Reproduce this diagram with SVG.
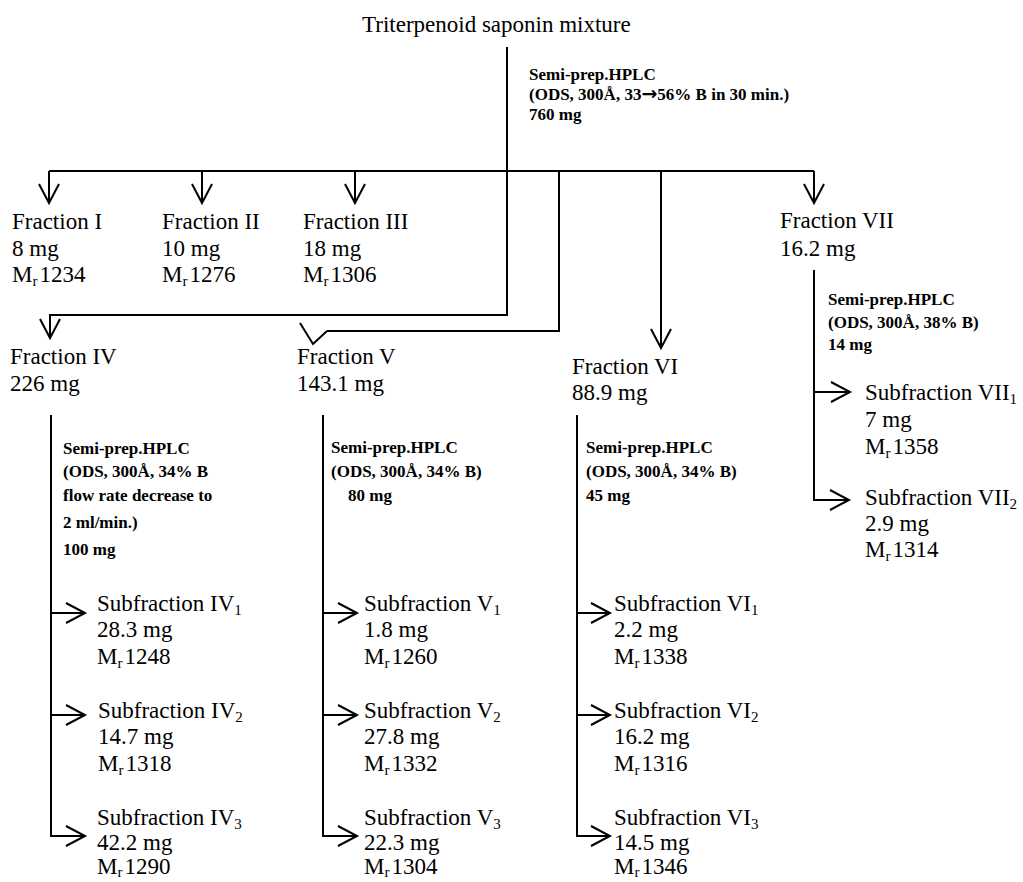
<svg xmlns="http://www.w3.org/2000/svg" width="1023" height="882" viewBox="0 0 1023 882">
<style>
.b{font-family:"Liberation Serif","Times New Roman",serif;font-size:23px;fill:#000}
.s{font-family:"Liberation Serif","Times New Roman",serif;font-size:17px;font-weight:bold;fill:#000}
.sub{font-size:15px}
.arr{font-family:"DejaVu Sans",sans-serif;font-size:19px;font-weight:bold}
.ln{fill:none;stroke:#000;stroke-width:2}
</style>
<defs>
<marker id="ah" markerUnits="userSpaceOnUse" markerWidth="40" markerHeight="40" viewBox="-30 -20 40 40" refX="0" refY="0" orient="auto">
<path d="M-19,-10 L0,0 L-19,10" fill="none" stroke="#000" stroke-width="2"/>
</marker>
</defs>
<rect width="1023" height="882" fill="#fff"/>

<g id="connectors" class="ln">
<path d="M507,47 V315 H50 V338" marker-end="url(#ah)"/>
<path d="M49,171 H814"/>
<path d="M49,171 V203" marker-end="url(#ah)"/>
<path d="M202,171 V203" marker-end="url(#ah)"/>
<path d="M355,171 V203" marker-end="url(#ah)"/>
<path d="M814,171 V203" marker-end="url(#ah)"/>
<path d="M559,171 V331 H327"/>
<path d="M300,323 L313,344 L327,331"/>
<path d="M661,171 V348" marker-end="url(#ah)"/>
<path d="M814,270 V500 H849" marker-end="url(#ah)"/>
<path d="M814,392 H850" marker-end="url(#ah)"/>
<path d="M51,415 V836 H85" marker-end="url(#ah)"/>
<path d="M51,613 H85" marker-end="url(#ah)"/>
<path d="M51,715 H85" marker-end="url(#ah)"/>
<path d="M323,415 V836 H357" marker-end="url(#ah)"/>
<path d="M323,613 H357" marker-end="url(#ah)"/>
<path d="M323,715 H357" marker-end="url(#ah)"/>
<path d="M577,415 V836 H610" marker-end="url(#ah)"/>
<path d="M577,613 H610" marker-end="url(#ah)"/>
<path d="M577,715 H610" marker-end="url(#ah)"/>
</g>

<g id="title"><text class="b" x="362" y="32">Triterpenoid saponin mixture</text></g>

<g id="hplc-main">
<text class="s" x="529" y="80">Semi-prep.HPLC</text>
<text class="s" x="529" y="100">(ODS, 300Å, 33<tspan class="arr">→</tspan>56% B in 30 min.)</text>
<text class="s" x="529" y="120">760 mg</text>
</g>

<g id="fraction-1">
<text class="b" x="12" y="229">Fraction I</text>
<text class="b" x="12" y="256">8 mg</text>
<text class="b" x="12" y="282">M<tspan class="sub" dy="4">r</tspan><tspan dx="2" dy="-4">1234</tspan></text>
</g>
<g id="fraction-2">
<text class="b" x="162" y="229">Fraction II</text>
<text class="b" x="162" y="256">10 mg</text>
<text class="b" x="162" y="282">M<tspan class="sub" dy="4">r</tspan><tspan dx="2" dy="-4">1276</tspan></text>
</g>
<g id="fraction-3">
<text class="b" x="303" y="229">Fraction III</text>
<text class="b" x="303" y="256">18 mg</text>
<text class="b" x="303" y="282">M<tspan class="sub" dy="4">r</tspan><tspan dx="2" dy="-4">1306</tspan></text>
</g>
<g id="fraction-7">
<text class="b" x="780" y="228">Fraction VII</text>
<text class="b" x="780" y="256">16.2 mg</text>
</g>

<g id="fraction-4">
<text class="b" x="10" y="364">Fraction IV</text>
<text class="b" x="10" y="391">226 mg</text>
</g>
<g id="fraction-5">
<text class="b" x="297" y="364">Fraction V</text>
<text class="b" x="297" y="391">143.1 mg</text>
</g>
<g id="fraction-6">
<text class="b" x="572" y="374">Fraction VI</text>
<text class="b" x="572" y="400">88.9 mg</text>
</g>

<g id="hplc-7">
<text class="s" x="828" y="305">Semi-prep.HPLC</text>
<text class="s" x="828" y="328">(ODS, 300Å, 38% B)</text>
<text class="s" x="828" y="350">14 mg</text>
</g>
<g id="hplc-4">
<text class="s" x="63" y="454">Semi-prep.HPLC</text>
<text class="s" x="63" y="477">(ODS, 300Å, 34% B</text>
<text class="s" x="63" y="501">flow rate decrease to</text>
<text class="s" x="63" y="528">2 ml/min.)</text>
<text class="s" x="63" y="555">100 mg</text>
</g>
<g id="hplc-5">
<text class="s" x="331" y="453">Semi-prep.HPLC</text>
<text class="s" x="331" y="477">(ODS, 300Å, 34% B)</text>
<text class="s" x="348" y="501">80 mg</text>
</g>
<g id="hplc-6">
<text class="s" x="586" y="453">Semi-prep.HPLC</text>
<text class="s" x="586" y="477">(ODS, 300Å, 34% B)</text>
<text class="s" x="586" y="501">45 mg</text>
</g>

<g id="subfraction-7-1">
<text class="b" x="865" y="400">Subfraction VII<tspan class="sub" dy="4">1</tspan></text>
<text class="b" x="865" y="427">7 mg</text>
<text class="b" x="865" y="454">M<tspan class="sub" dy="4">r</tspan><tspan dx="2" dy="-4">1358</tspan></text>
</g>
<g id="subfraction-7-2">
<text class="b" x="865" y="505">Subfraction VII<tspan class="sub" dy="4">2</tspan></text>
<text class="b" x="865" y="531">2.9 mg</text>
<text class="b" x="865" y="557">M<tspan class="sub" dy="4">r</tspan><tspan dx="2" dy="-4">1314</tspan></text>
</g>

<g id="subfraction-4-1">
<text class="b" x="97" y="611">Subfraction IV<tspan class="sub" dy="4">1</tspan></text>
<text class="b" x="97" y="637">28.3 mg</text>
<text class="b" x="97" y="664">M<tspan class="sub" dy="4">r</tspan><tspan dx="2" dy="-4">1248</tspan></text>
</g>
<g id="subfraction-4-2">
<text class="b" x="98" y="718">Subfraction IV<tspan class="sub" dy="4">2</tspan></text>
<text class="b" x="98" y="744">14.7 mg</text>
<text class="b" x="98" y="771">M<tspan class="sub" dy="4">r</tspan><tspan dx="2" dy="-4">1318</tspan></text>
</g>
<g id="subfraction-4-3">
<text class="b" x="97" y="825">Subfraction IV<tspan class="sub" dy="4">3</tspan></text>
<text class="b" x="97" y="850">42.2 mg</text>
<text class="b" x="97" y="874">M<tspan class="sub" dy="3">r</tspan><tspan dx="2" dy="-3">1290</tspan></text>
</g>

<g id="subfraction-5-1">
<text class="b" x="364" y="611">Subfraction V<tspan class="sub" dy="4">1</tspan></text>
<text class="b" x="364" y="637">1.8 mg</text>
<text class="b" x="364" y="664">M<tspan class="sub" dy="4">r</tspan><tspan dx="2" dy="-4">1260</tspan></text>
</g>
<g id="subfraction-5-2">
<text class="b" x="364" y="718">Subfraction V<tspan class="sub" dy="4">2</tspan></text>
<text class="b" x="364" y="744">27.8 mg</text>
<text class="b" x="364" y="771">M<tspan class="sub" dy="4">r</tspan><tspan dx="2" dy="-4">1332</tspan></text>
</g>
<g id="subfraction-5-3">
<text class="b" x="364" y="825">Subfraction V<tspan class="sub" dy="4">3</tspan></text>
<text class="b" x="364" y="850">22.3 mg</text>
<text class="b" x="364" y="874">M<tspan class="sub" dy="3">r</tspan><tspan dx="2" dy="-3">1304</tspan></text>
</g>

<g id="subfraction-6-1">
<text class="b" x="614" y="611">Subfraction VI<tspan class="sub" dy="4">1</tspan></text>
<text class="b" x="614" y="637">2.2 mg</text>
<text class="b" x="614" y="664">M<tspan class="sub" dy="4">r</tspan><tspan dx="2" dy="-4">1338</tspan></text>
</g>
<g id="subfraction-6-2">
<text class="b" x="614" y="718">Subfraction VI<tspan class="sub" dy="4">2</tspan></text>
<text class="b" x="614" y="744">16.2 mg</text>
<text class="b" x="614" y="771">M<tspan class="sub" dy="4">r</tspan><tspan dx="2" dy="-4">1316</tspan></text>
</g>
<g id="subfraction-6-3">
<text class="b" x="614" y="825">Subfraction VI<tspan class="sub" dy="4">3</tspan></text>
<text class="b" x="614" y="850">14.5 mg</text>
<text class="b" x="614" y="874">M<tspan class="sub" dy="3">r</tspan><tspan dx="2" dy="-3">1346</tspan></text>
</g>
</svg>
